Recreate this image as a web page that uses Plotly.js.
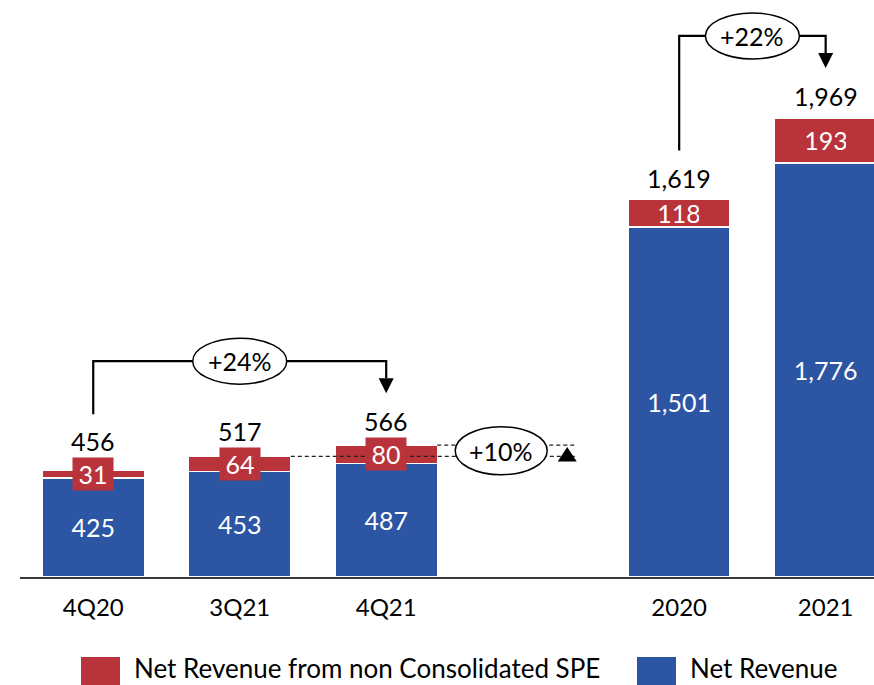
<!DOCTYPE html>
<html>
<head>
<meta charset="utf-8">
<script src="https://cdn.plot.ly/plotly-3.0.1.min.js"></script>
<style>
  html, body { margin: 0; padding: 0; background: #ffffff; }
  #chart { width: 874px; height: 685px; }
</style>
</head>
<body>
<div id="chart"></div>
<script>
// Net revenue by period (R$ mn), stacked with the non consolidated SPE share
const categories = ['4Q20', '3Q21', '4Q21', '2020', '2021'];
const netRevenue = [425, 453, 487, 1501, 1776];
const speRevenue = [31, 64, 80, 118, 193];
const totals = [456, 517, 566, 1619, 1969];
const growthLabels = ['+24%', '+10%', '+22%'];
const seriesNames = ['Net Revenue from non Consolidated SPE', 'Net Revenue'];

const BLUE = '#2c55a3';
const RED = '#b9333a';
const FONT = 'Lato, "Open Sans", sans-serif';

// layout geometry
const W = 874, H = 685;
const M = { l: 20, r: 0, t: 0, b: 108 };
const plotW = W - M.l - M.r, plotH = H - M.t - M.b;
const yMax = 2475;
const xMin = -0.5, xMax = 5.33;

// quarterly bars first, then a one-slot gap before the yearly bars
const positions = categories.map((c, i) => i + (i >= 3 ? 1 : 0));

// pixel <-> data helpers for the decorations
const yPx = v => M.t + plotH * (1 - v / yMax);
const pxY = p => yMax * (1 - (p - M.t) / plotH);
const xPx = v => M.l + plotW * (v - xMin) / (xMax - xMin);
const pxX = p => xMin + (p - M.l) * (xMax - xMin) / plotW;
const paperX = p => (p - M.l) / plotW;
const paperY = p => (M.t + plotH - p) / plotH;

const fmt = n => n.toLocaleString('en-US');

const traces = [
  {
    type: 'bar', name: seriesNames[1], x: positions, y: netRevenue,
    marker: { color: BLUE, line: { color: '#ffffff', width: 1.5 } },
    texttemplate: '%{y:,}', textposition: 'inside', insidetextanchor: 'middle',
    textfont: { family: FONT, size: 25, color: '#ffffff' },
    constraintext: 'none', hoverinfo: 'skip'
  },
  {
    type: 'bar', name: seriesNames[0], x: positions, y: speRevenue,
    marker: { color: RED, line: { color: '#ffffff', width: 1.5 } },
    hoverinfo: 'skip'
  }
];

const shapes = [];
const annotations = [];

// segment labels for the SPE share and total labels above each bar
const labelCenterPx = [];
positions.forEach((x, i) => {
  const mid = netRevenue[i] + speRevenue[i] / 2;
  const segPx = speRevenue[i] * plotH / yMax;
  annotations.push({
    x: x, y: mid, xref: 'x', yref: 'y', text: fmt(speRevenue[i]), showarrow: false,
    font: { family: FONT, size: 25, color: '#ffffff' },
    bgcolor: segPx < 25 ? RED : 'rgba(0,0,0,0)', borderpad: 0,
    width: 40, height: 32, xanchor: 'center', yanchor: 'middle'
  });
  const c = Math.min(yPx(totals[i]) - 22, yPx(mid) - 33);
  labelCenterPx.push(c);
  annotations.push({
    x: x, y: pxY(c), xref: 'x', yref: 'y', text: fmt(totals[i]), showarrow: false,
    font: { family: FONT, size: 25, color: '#000000' }, xanchor: 'center', yanchor: 'middle'
  });
});

// growth bracket: line from one total to another, with an arrowhead and an oval label
function bracket(a, b, label) {
  const xa = positions[a], xb = positions[b];
  const leftPx = labelCenterPx[a] - 27;
  const tipPx = labelCenterPx[b] - 28;
  const topPx = Math.min(leftPx, tipPx) - 32;
  const basePx = tipPx - 15;
  const xbPx = xPx(xb);
  shapes.push({
    type: 'path', xref: 'x', yref: 'y',
    path: `M ${xa},${pxY(leftPx)} L ${xa},${pxY(topPx)} L ${xb},${pxY(topPx)} L ${xb},${pxY(basePx)}`,
    line: { color: '#000000', width: 2.2 }
  });
  shapes.push({
    type: 'path', xref: 'x', yref: 'y',
    path: `M ${pxX(xbPx - 7.5)},${pxY(basePx)} L ${pxX(xbPx + 7.5)},${pxY(basePx)} L ${xb},${pxY(tipPx)} Z`,
    fillcolor: '#000000', line: { color: '#000000', width: 0 }
  });
  const cx = (xa + xb) / 2, cxPx = xPx(cx);
  shapes.push({
    type: 'circle', xref: 'x', yref: 'y',
    x0: pxX(cxPx - 47), x1: pxX(cxPx + 47), y0: pxY(topPx + 23), y1: pxY(topPx - 23),
    fillcolor: '#ffffff', line: { color: '#000000', width: 1.5 }
  });
  annotations.push({
    x: cx, y: pxY(topPx), xref: 'x', yref: 'y', text: label, showarrow: false,
    font: { family: FONT, size: 25, color: '#000000' }, xanchor: 'center', yanchor: 'middle'
  });
}
bracket(0, 2, growthLabels[0]);
bracket(3, 4, growthLabels[2]);

// quarter-on-quarter comparison between 3Q21 and 4Q21 totals
(function () {
  const q3 = 1, q4 = 2;
  const barHalf = 0.3485;
  const refPx = xPx(positions[q4]);
  const endX = pxX(refPx + 189);
  const dash = { color: '#222222', width: 1.2, dash: '4px,3px' };
  shapes.push({ type: 'line', xref: 'x', yref: 'y', x0: positions[q3] + barHalf, x1: endX,
    y0: totals[q3], y1: totals[q3], line: dash });
  shapes.push({ type: 'line', xref: 'x', yref: 'y', x0: positions[q4] + barHalf, x1: endX,
    y0: totals[q4], y1: totals[q4], line: dash });
  const triX = refPx + 181;
  const tipPx = yPx(totals[q4]) + 2, basePx = yPx(totals[q3]) + 5;
  shapes.push({
    type: 'path', xref: 'x', yref: 'y',
    path: `M ${pxX(triX - 9.5)},${pxY(basePx)} L ${pxX(triX + 9.5)},${pxY(basePx)} L ${pxX(triX)},${pxY(tipPx)} Z`,
    fillcolor: '#000000', line: { color: '#000000', width: 0 }
  });
  const cxPx = refPx + 115, cy = (totals[q3] + totals[q4]) / 2, cyPx = yPx(cy);
  shapes.push({
    type: 'circle', xref: 'x', yref: 'y',
    x0: pxX(cxPx - 46), x1: pxX(cxPx + 46), y0: pxY(cyPx + 24), y1: pxY(cyPx - 24),
    fillcolor: '#ffffff', line: { color: '#000000', width: 1.5 }
  });
  annotations.push({
    x: pxX(cxPx), y: cy, xref: 'x', yref: 'y', text: growthLabels[1], showarrow: false,
    font: { family: FONT, size: 25, color: '#000000' }, xanchor: 'center', yanchor: 'middle'
  });
})();

// legend drawn as swatches and labels below the axis
const legendItems = [
  { name: seriesNames[0], color: RED, sw: 81, tx: 133 },
  { name: seriesNames[1], color: BLUE, sw: 637, tx: 689 }
];
legendItems.forEach(it => {
  shapes.push({
    type: 'rect', xref: 'paper', yref: 'paper',
    x0: paperX(it.sw), x1: paperX(it.sw + 39), y0: paperY(657), y1: paperY(700),
    fillcolor: it.color, line: { width: 0 }
  });
  annotations.push({
    xref: 'paper', yref: 'paper', x: paperX(it.tx), y: paperY(684), text: it.name, showarrow: false,
    font: { family: FONT, size: 26, color: '#000000' }, xanchor: 'left', yanchor: 'bottom',
    height: 30, borderpad: 0
  });
});

const layout = {
  width: W, height: H, margin: M,
  paper_bgcolor: '#ffffff', plot_bgcolor: '#ffffff',
  barmode: 'stack', bargap: 0.303, showlegend: false,
  font: { family: FONT, color: '#000000' },
  xaxis: {
    range: [xMin, xMax], tickvals: positions, ticktext: categories,
    tickfont: { family: FONT, size: 24, color: '#000000' },
    showgrid: false, zeroline: false, ticks: '', showline: true,
    linecolor: '#3a3a3a', linewidth: 2, ticklabelstandoff: 8, fixedrange: true
  },
  yaxis: { range: [0, yMax], visible: false, fixedrange: true },
  shapes: shapes, annotations: annotations
};

Plotly.newPlot('chart', traces, layout, { staticPlot: true, displayModeBar: false });
</script>
</body>
</html>
